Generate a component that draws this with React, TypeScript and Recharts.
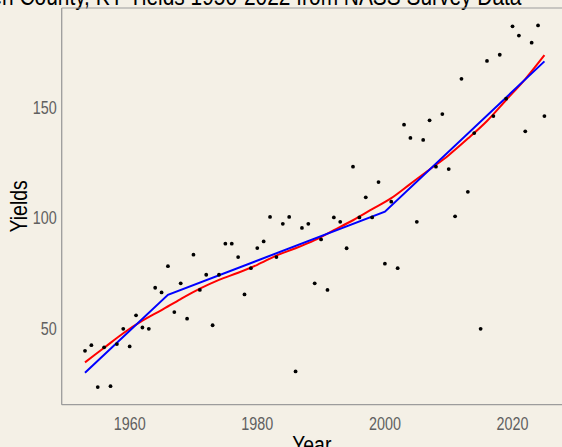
import React from "react";
import {
  ComposedChart,
  Line,
  Scatter,
  XAxis,
  YAxis,
  ReferenceLine,
} from "recharts";

// Survey years and yields.
const YEARS = [
  1953, 1954, 1955, 1956, 1957, 1958, 1959, 1960, 1961, 1962, 1963, 1964, 1965, 1966, 1967, 1968, 1969,
  1970, 1971, 1972, 1973, 1974, 1975, 1976, 1977, 1978, 1979, 1980, 1981, 1982, 1983, 1984, 1985, 1986,
  1987, 1988, 1989, 1990, 1991, 1992, 1993, 1994, 1995, 1996, 1997, 1998, 1999, 2000, 2001, 2002, 2003,
  2004, 2005, 2006, 2007, 2008, 2009, 2010, 2011, 2012, 2013, 2014, 2015, 2016, 2017, 2018, 2019, 2020,
  2021, 2022, 2023, 2024, 2025,
];
const YIELDS = [
  39.8, 42.4, 23.4, 41.4, 23.8, 42.9, 49.8, 41.8, 55.9, 50.4, 49.8, 68.4, 66.3, 78.2, 57.4, 70.4, 54.4,
  83.4, 67.4, 74.3, 51.4, 74.3, 88.4, 88.4, 82.3, 65.4, 77.3, 86.4, 89.4, 100.5, 82.3, 97.4, 100.5, 30.5,
  95.5, 97.4, 70.4, 90.3, 67.4, 100.3, 98.3, 86.3, 123.3, 100.3, 109.4, 100.3, 116.3, 79.3, 107.4, 77.3,
  142.3, 136.3, 98.3, 135.4, 144.3, 123.3, 147.1, 122.2, 100.8, 163.1, 111.9, 138.5, 49.8, 171.2, 146.2,
  174.0, 154.1, 186.9, 182.7, 139.3, 179.5, 187.3, 146.2,
];

// Smooth (red) trend, sampled every few years.
const SMOOTH_YEARS = [
  1953, 1956, 1959, 1962, 1965, 1968, 1971, 1974, 1977, 1980, 1983, 1986, 1989, 1992, 1995, 1998, 2001,
  2004, 2007, 2010, 2013, 2016, 2019, 2022, 2025,
];
const SMOOTH_VALUES = [
  34.6, 41.2, 47.8, 53.5, 58.3, 63.3, 68, 72, 75.2, 78.8, 83, 86.3, 90, 94.5, 99, 104, 109, 115.5, 122,
  128.5, 136, 144, 153.5, 163, 173.8,
];

// Segmented (blue) fit, breakpoints only.
const SEGMENT_YEARS = [1953, 1966, 2000, 2025];
const SEGMENT_VALUES = [29.9, 65.2, 102.9, 171.0];

const X_TICKS = [1960, 1980, 2000, 2020];
const Y_TICKS = [50, 100, 150];

const BG = "#F4F0E6";
const AXIS = "#9c9c9c";
const TICK = "#606060";
const FONT = "'Liberation Sans', Arial, sans-serif";
// the reference uses a narrow sans; squeeze the regular one horizontally
const NARROW = 0.82;

const rows = YEARS.map((year, i) => {
  const s = SMOOTH_YEARS.indexOf(year);
  const b = SEGMENT_YEARS.indexOf(year);
  return {
    year,
    yield: YIELDS[i],
    smooth: s >= 0 ? SMOOTH_VALUES[s] : null,
    segmented: b >= 0 ? SEGMENT_VALUES[b] : null,
  };
});

const Dot = (p: any) => <circle cx={p.cx} cy={p.cy} r={1.9} fill="#000" />;

const XTick = (p: any) => (
  <g transform={`translate(${p.x}, ${p.y}) scale(${NARROW}, 1)`}>
    <text x={0} y={0} dy="0.71em" textAnchor="middle" fontSize={17.5} fill={TICK} fontFamily={FONT}>
      {p.payload.value}
    </text>
  </g>
);

const YTick = (p: any) => (
  <g transform={`translate(${p.x}, ${p.y}) scale(${NARROW}, 1)`}>
    <text x={0} y={0} dy="0.355em" textAnchor="end" fontSize={17.5} fill={TICK} fontFamily={FONT}>
      {p.payload.value}
    </text>
  </g>
);

export default function App() {
  return (
    <div
      style={{
        position: "absolute",
        left: 0,
        top: 0,
        width: 562,
        height: 447,
        overflow: "hidden",
        background: BG,
        fontFamily: FONT,
      }}
    >
      <svg width={562} height={30} style={{ position: "absolute", left: 0, top: 0 }}>
        <g transform={`translate(521.5, 4.5) scale(${NARROW}, 1)`}>
          <text x={0} y={0} textAnchor="end" fontSize={25.5} fill="#000" fontFamily={FONT}>
            Warren County, KY Yields 1950-2022 from NASS Survey Data
          </text>
        </g>
      </svg>
      <ComposedChart
        width={570}
        height={447}
        data={rows}
        margin={{ top: 8, right: 4.2, bottom: 0, left: 0 }}
        style={{ position: "absolute", left: 0, top: 0 }}
      >
        <XAxis
          dataKey="year"
          type="number"
          domain={[1949.35, 2028.35]}
          allowDataOverflow
          ticks={X_TICKS}
          height={42.3}
          tickLine={false}
          tickSize={0}
          tickMargin={13}
          stroke={AXIS}
          strokeWidth={1.3}
          tick={XTick}
          label={{
            content: (props: any) => {
              const vb = props.viewBox;
              const cx = vb.x + vb.width / 2 - 2;
              return (
                <g transform={`translate(${cx}, 452.6) scale(${NARROW}, 1)`}>
                  <text x={0} y={0} textAnchor="middle" fontSize={23.7} fill="#000" fontFamily={FONT}>
                    Year
                  </text>
                </g>
              );
            },
          }}
        />
        <YAxis
          type="number"
          domain={[15.4, 195.2]}
          allowDataOverflow
          ticks={Y_TICKS}
          width={61.7}
          tickLine={false}
          tickSize={0}
          tickMargin={5}
          stroke={AXIS}
          strokeWidth={1.3}
          tick={YTick}
          label={{
            content: (props: any) => {
              const vb = props.viewBox;
              const cx = 27;
              const cy = vb.y + vb.height / 2;
              return (
                <g transform={`translate(${cx}, ${cy}) rotate(-90) scale(${NARROW}, 1)`}>
                  <text x={0} y={0} textAnchor="middle" fontSize={23.7} fill="#000" fontFamily={FONT}>
                    Yields
                  </text>
                </g>
              );
            },
          }}
        />
        <ReferenceLine y={195.2} stroke={AXIS} strokeWidth={1} ifOverflow="extendDomain" />
        <Scatter dataKey="yield" shape={Dot} isAnimationActive={false} />
        <Line
          dataKey="smooth"
          type="monotone"
          stroke="#FF0000"
          strokeWidth={2}
          dot={false}
          connectNulls
          isAnimationActive={false}
        />
        <Line
          dataKey="segmented"
          type="linear"
          stroke="#0000FF"
          strokeWidth={2}
          dot={false}
          connectNulls
          isAnimationActive={false}
        />
      </ComposedChart>
    </div>
  );
}
